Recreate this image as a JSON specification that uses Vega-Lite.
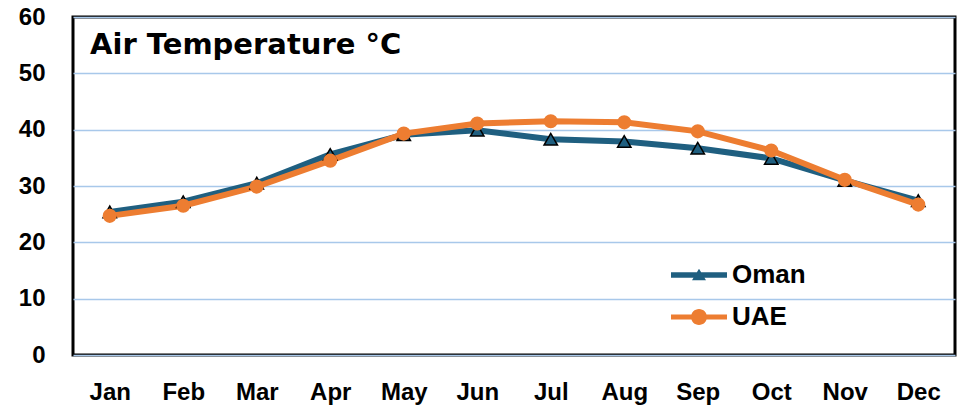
{
  "$schema": "https://vega.github.io/schema/vega-lite/v6.json",
  "width": 882,
  "height": 338,
  "autosize": "none",
  "padding": {"left": 73, "top": 17, "right": 4, "bottom": 54},
  "background": "white",
  "config": {
    "font": "Liberation Sans",
    "view": {"stroke": "black", "strokeWidth": 3},
    "axis": {"labelFont": "Liberation Sans", "labelFontWeight": "bold", "labelFontSize": 24, "labelColor": "black"}
  },
  "title": {
    "text": "Air Temperature °C",
    "anchor": "start",
    "frame": "group",
    "orient": "top",
    "baseline": "alphabetic",
    "offset": -41,
    "dx": 17,
    "dy": 37,
    "fontSize": 29,
    "fontWeight": "bold",
    "font": "DejaVu Sans",
    "color": "black"
  },
  "data": {
    "values": [
      {"month": "Jan", "country": "Oman", "temp": 25.4},
      {"month": "Feb", "country": "Oman", "temp": 27.2},
      {"month": "Mar", "country": "Oman", "temp": 30.5},
      {"month": "Apr", "country": "Oman", "temp": 35.6},
      {"month": "May", "country": "Oman", "temp": 39.1},
      {"month": "Jun", "country": "Oman", "temp": 39.9},
      {"month": "Jul", "country": "Oman", "temp": 38.3},
      {"month": "Aug", "country": "Oman", "temp": 37.9},
      {"month": "Sep", "country": "Oman", "temp": 36.7},
      {"month": "Oct", "country": "Oman", "temp": 34.9},
      {"month": "Nov", "country": "Oman", "temp": 31.0},
      {"month": "Dec", "country": "Oman", "temp": 27.4},
      {"month": "Jan", "country": "UAE", "temp": 24.7},
      {"month": "Feb", "country": "UAE", "temp": 26.5},
      {"month": "Mar", "country": "UAE", "temp": 29.9},
      {"month": "Apr", "country": "UAE", "temp": 34.5},
      {"month": "May", "country": "UAE", "temp": 39.3},
      {"month": "Jun", "country": "UAE", "temp": 41.1},
      {"month": "Jul", "country": "UAE", "temp": 41.5},
      {"month": "Aug", "country": "UAE", "temp": 41.3},
      {"month": "Sep", "country": "UAE", "temp": 39.7},
      {"month": "Oct", "country": "UAE", "temp": 36.3},
      {"month": "Nov", "country": "UAE", "temp": 31.1},
      {"month": "Dec", "country": "UAE", "temp": 26.7}
    ]
  },
  "encoding": {
    "x": {
      "field": "month", "type": "ordinal",
      "sort": ["Jan","Feb","Mar","Apr","May","Jun","Jul","Aug","Sep","Oct","Nov","Dec"],
      "axis": {"title": null, "labelAngle": 0, "domain": false, "ticks": false, "tickSize": 0, "grid": false, "labelPadding": 25}
    },
    "y": {
      "field": "temp", "type": "quantitative",
      "scale": {"domain": [0, 60], "nice": false},
      "axis": {"title": null, "values": [0,10,20,30,40,50,60], "domain": false, "ticks": false, "tickSize": 0, "labelPadding": 28, "grid": true, "gridColor": "#A8C8EA", "gridWidth": 1.5}
    }
  },
  "layer": [
    {
      "mark": {"type": "line", "strokeWidth": 6},
      "encoding": {
        "stroke": {
          "field": "country", "type": "nominal",
          "scale": {"domain": ["Oman", "UAE"], "range": ["#1F5F80", "#ED7D31"]},
          "legend": {
            "title": null,
            "orient": "none",
            "legendX": 613,
            "legendY": 245,
            "padding": 0,
            "labelFont": "Liberation Sans",
            "labelFontSize": 26,
            "labelFontWeight": "bold",
            "labelColor": "black",
            "labelOffset": 20,
            "rowPadding": 16,
            "symbolSize": 400,
            "encode": {
              "symbols": {
                "update": {
                  "shape": {"signal": "datum.value === 'Oman' ? 'M-2.8,-0.28H2.8V0.28H-2.8Z M0,-0.62L0.7,0.52H-0.7Z' : 'M-2.8,-0.26H2.8V0.26H-2.8Z M0.8,0A0.8,0.8 0 1,1 -0.8,0A0.8,0.8 0 1,1 0.8,0Z'"},
                  "fill": {"signal": "datum.value === 'Oman' ? '#1F5F80' : '#ED7D31'"},
                  "size": {"value": 400},
                  "strokeWidth": {"value": 0},
                  "opacity": {"value": 1},
                  "fillOpacity": {"value": 1}
                }
              }
            }
          }
        }
      }
    },
    {
      "transform": [{"filter": "datum.country === 'Oman'"}],
      "mark": {"type": "point", "shape": "triangle-up", "filled": true, "opacity": 1, "fill": "#1F5F80", "stroke": "black", "strokeWidth": 1.5, "size": 180}
    },
    {
      "transform": [{"filter": "datum.country === 'UAE'"}],
      "mark": {"type": "point", "shape": "circle", "filled": true, "opacity": 1, "fill": "#ED7D31", "strokeWidth": 0, "size": 200}
    }
  ]
}
